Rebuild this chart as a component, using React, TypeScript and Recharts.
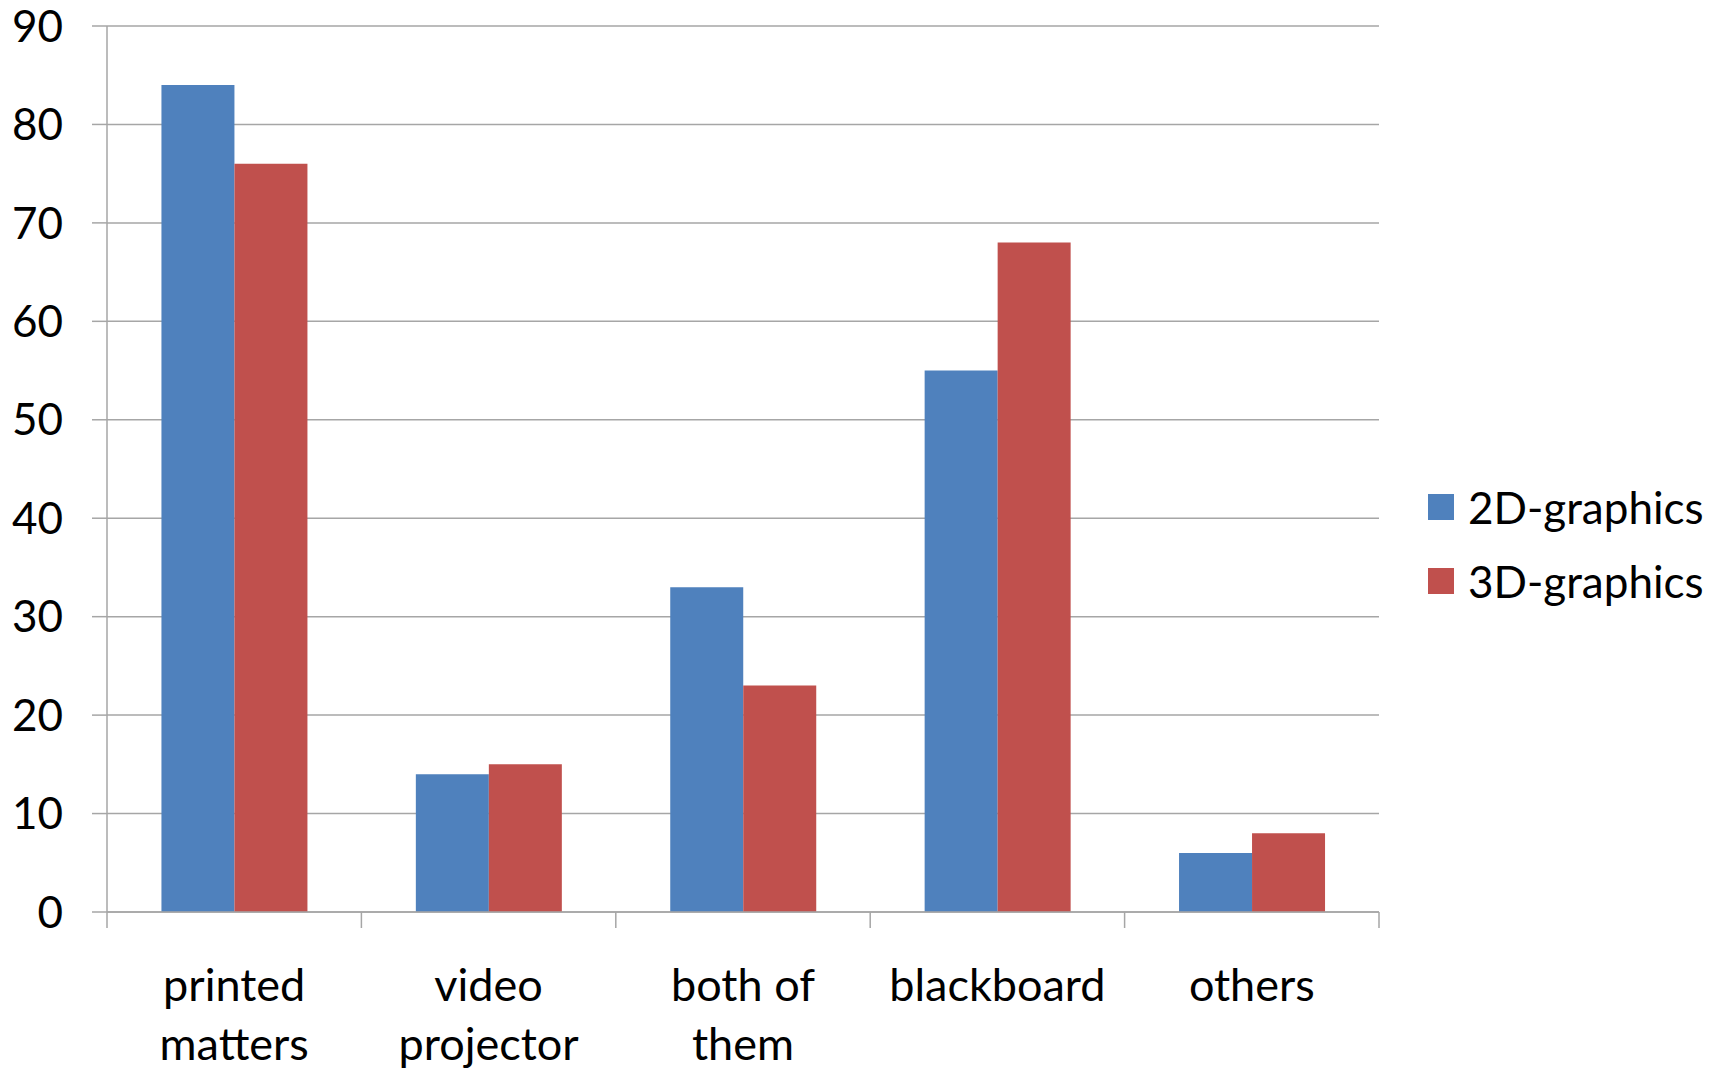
import React from "react";
import {
  BarChart,
  Bar,
  CartesianGrid,
  XAxis,
  YAxis,
  Legend
} from "recharts";

const categories = [
  ["printed", "matters"],
  ["video", "projector"],
  ["both of", "them"],
  ["blackboard"],
  ["others"]
];
const graphics2D = [84, 14, 33, 55, 6];
const graphics3D = [76, 15, 23, 68, 8];
const yTicks = [0, 10, 20, 30, 40, 50, 60, 70, 80, 90];

const data = categories.map((lines, i) => ({
  name: lines.join(" "),
  lines,
  d2: graphics2D[i],
  d3: graphics3D[i]
}));

const FONT = "Lato, 'Open Sans', sans-serif";
const GRID = "#a6a6a6";
const W = 1721;
const H = 1071;
const M = {top: 26, right: 342, bottom: 0, left: 0};
const Y_W = 107;
// width of one category band, for the boundary tick marks
const BAND = (W - M.left - M.right - Y_W) / categories.length;

function CategoryTick(props: any) {
  const {x, y, payload, index} = props;
  const idx = payload.index ?? index;
  const lines = data[idx]?.lines ?? [payload.value];
  const last = idx === categories.length - 1;
  return (
    <g>
      <line x1={x - BAND / 2} x2={x - BAND / 2} y1={y} y2={y + 16} stroke={GRID} strokeWidth={1.5} />
      {last && (
        <line x1={x + BAND / 2} x2={x + BAND / 2} y1={y} y2={y + 16} stroke={GRID} strokeWidth={1.5} />
      )}
      <text x={x} y={y} textAnchor="middle" fill="#000" fontFamily={FONT} fontSize={45}>
        {lines.map((l: string, i: number) => (
          <tspan key={i} x={x} dy={i === 0 ? 89 : 59}>
            {l}
          </tspan>
        ))}
      </text>
    </g>
  );
}

function LegendBox(props: any) {
  const items = props.payload ?? [];
  return (
    <div style={{fontFamily: FONT, fontSize: 44, color: "#000"}}>
      {items.map((it: any) => (
        <div key={it.value} style={{display: "flex", alignItems: "center", height: 74}}>
          <span style={{width: 26, height: 26, background: it.color, marginRight: 14, display: "inline-block"}} />
          <span>{it.value}</span>
        </div>
      ))}
    </div>
  );
}

export default function App() {
  return (
    <div style={{position: "absolute", left: 0, top: 0, width: W, height: H, background: "#fff"}}>
      <BarChart
        width={W}
        height={H}
        data={data}
        margin={M}
        barCategoryGap="21.4%"
        barGap={0}
      >
        <CartesianGrid vertical={false} stroke={GRID} strokeWidth={1.5} />
        <XAxis
          dataKey="name"
          height={159}
          interval={0}
          axisLine={{stroke: GRID, strokeWidth: 1.5}}
          tickLine={false}
          tickSize={0}
          tickMargin={0}
          tick={<CategoryTick />}
        />
        <YAxis
          width={Y_W}
          domain={[0, 90]}
          ticks={yTicks}
          interval={0}
          axisLine={{stroke: GRID, strokeWidth: 1.5}}
          tickLine={{stroke: GRID, strokeWidth: 1.5}}
          tickSize={15}
          tickMargin={29}
          tick={{fill: "#000", fontFamily: FONT, fontSize: 44}}
        />
        <Legend
          layout="vertical"
          align="center"
          verticalAlign="middle"
          content={<LegendBox />}
          wrapperStyle={{position: "absolute", left: 1428, top: 470, width: 293}}
        />
        <Bar dataKey="d2" name="2D-graphics" fill="#4f81bd" isAnimationActive={false} />
        <Bar dataKey="d3" name="3D-graphics" fill="#c0504d" isAnimationActive={false} />
      </BarChart>
    </div>
  );
}
